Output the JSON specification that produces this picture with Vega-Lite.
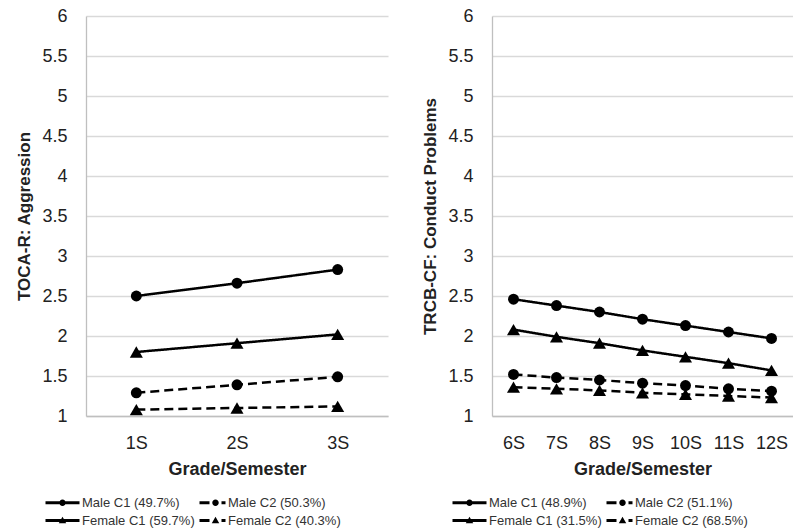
{
  "$schema": "https://vega.github.io/schema/vega-lite/v6.json",
  "padding": {"left": 15, "top": 7, "right": 0, "bottom": 0},
  "background": "white",
  "datasets": {
    "left": [
      {"g": "1S", "v": 2.5, "series": "Male C1 (49.7%)", "sex": "Male", "cls": "C1"},
      {"g": "2S", "v": 2.66, "series": "Male C1 (49.7%)", "sex": "Male", "cls": "C1"},
      {"g": "3S", "v": 2.83, "series": "Male C1 (49.7%)", "sex": "Male", "cls": "C1"},
      {"g": "1S", "v": 1.29, "series": "Male C2 (50.3%)", "sex": "Male", "cls": "C2"},
      {"g": "2S", "v": 1.39, "series": "Male C2 (50.3%)", "sex": "Male", "cls": "C2"},
      {"g": "3S", "v": 1.49, "series": "Male C2 (50.3%)", "sex": "Male", "cls": "C2"},
      {"g": "1S", "v": 1.8, "series": "Female C1 (59.7%)", "sex": "Female", "cls": "C1"},
      {"g": "2S", "v": 1.91, "series": "Female C1 (59.7%)", "sex": "Female", "cls": "C1"},
      {"g": "3S", "v": 2.02, "series": "Female C1 (59.7%)", "sex": "Female", "cls": "C1"},
      {"g": "1S", "v": 1.08, "series": "Female C2 (40.3%)", "sex": "Female", "cls": "C2"},
      {"g": "2S", "v": 1.1, "series": "Female C2 (40.3%)", "sex": "Female", "cls": "C2"},
      {"g": "3S", "v": 1.12, "series": "Female C2 (40.3%)", "sex": "Female", "cls": "C2"}
    ],
    "right": [
      {"g": "6S", "v": 2.46, "series": "Male C1 (48.9%)", "sex": "Male", "cls": "C1"},
      {"g": "7S", "v": 2.38, "series": "Male C1 (48.9%)", "sex": "Male", "cls": "C1"},
      {"g": "8S", "v": 2.3, "series": "Male C1 (48.9%)", "sex": "Male", "cls": "C1"},
      {"g": "9S", "v": 2.21, "series": "Male C1 (48.9%)", "sex": "Male", "cls": "C1"},
      {"g": "10S", "v": 2.13, "series": "Male C1 (48.9%)", "sex": "Male", "cls": "C1"},
      {"g": "11S", "v": 2.05, "series": "Male C1 (48.9%)", "sex": "Male", "cls": "C1"},
      {"g": "12S", "v": 1.97, "series": "Male C1 (48.9%)", "sex": "Male", "cls": "C1"},
      {"g": "6S", "v": 1.52, "series": "Male C2 (51.1%)", "sex": "Male", "cls": "C2"},
      {"g": "7S", "v": 1.48, "series": "Male C2 (51.1%)", "sex": "Male", "cls": "C2"},
      {"g": "8S", "v": 1.45, "series": "Male C2 (51.1%)", "sex": "Male", "cls": "C2"},
      {"g": "9S", "v": 1.41, "series": "Male C2 (51.1%)", "sex": "Male", "cls": "C2"},
      {"g": "10S", "v": 1.38, "series": "Male C2 (51.1%)", "sex": "Male", "cls": "C2"},
      {"g": "11S", "v": 1.34, "series": "Male C2 (51.1%)", "sex": "Male", "cls": "C2"},
      {"g": "12S", "v": 1.31, "series": "Male C2 (51.1%)", "sex": "Male", "cls": "C2"},
      {"g": "6S", "v": 2.08, "series": "Female C1 (31.5%)", "sex": "Female", "cls": "C1"},
      {"g": "7S", "v": 1.99, "series": "Female C1 (31.5%)", "sex": "Female", "cls": "C1"},
      {"g": "8S", "v": 1.91, "series": "Female C1 (31.5%)", "sex": "Female", "cls": "C1"},
      {"g": "9S", "v": 1.82, "series": "Female C1 (31.5%)", "sex": "Female", "cls": "C1"},
      {"g": "10S", "v": 1.74, "series": "Female C1 (31.5%)", "sex": "Female", "cls": "C1"},
      {"g": "11S", "v": 1.66, "series": "Female C1 (31.5%)", "sex": "Female", "cls": "C1"},
      {"g": "12S", "v": 1.57, "series": "Female C1 (31.5%)", "sex": "Female", "cls": "C1"},
      {"g": "6S", "v": 1.36, "series": "Female C2 (68.5%)", "sex": "Female", "cls": "C2"},
      {"g": "7S", "v": 1.34, "series": "Female C2 (68.5%)", "sex": "Female", "cls": "C2"},
      {"g": "8S", "v": 1.32, "series": "Female C2 (68.5%)", "sex": "Female", "cls": "C2"},
      {"g": "9S", "v": 1.29, "series": "Female C2 (68.5%)", "sex": "Female", "cls": "C2"},
      {"g": "10S", "v": 1.27, "series": "Female C2 (68.5%)", "sex": "Female", "cls": "C2"},
      {"g": "11S", "v": 1.25, "series": "Female C2 (68.5%)", "sex": "Female", "cls": "C2"},
      {"g": "12S", "v": 1.23, "series": "Female C2 (68.5%)", "sex": "Female", "cls": "C2"}
    ]
  },
  "hconcat": [
    {
      "width": 302,
      "height": 400,
      "data": {"name": "left"},
      "encoding": {
        "x": {"field": "g", "type": "ordinal", "sort": null, "title": "Grade/Semester"},
        "y": {"field": "v", "type": "quantitative", "title": "TOCA-R: Aggression",
              "scale": {"domain": [1, 6], "nice": false, "zero": false},
              "axis": {"values": [1, 1.5, 2, 2.5, 3, 3.5, 4, 4.5, 5, 5.5, 6], "format": "~g"}}
      },
      "layer": [
        {
          "mark": {"type": "line", "color": "black", "strokeWidth": 2.5},
          "encoding": {
            "detail": {"field": "series"},
            "strokeDash": {"field": "cls", "type": "nominal", "legend": null,
                           "scale": {"domain": ["C1", "C2"], "range": [[1, 0], [9, 5]]}}
          }
        },
        {
          "mark": {"type": "point", "filled": true, "color": "black", "opacity": 1},
          "encoding": {
            "shape": {"field": "sex", "type": "nominal", "legend": null,
                      "scale": {"domain": ["Male", "Female"], "range": ["circle", "triangle-up"]}},
            "size": {"field": "sex", "type": "nominal", "legend": null,
                     "scale": {"domain": ["Male", "Female"], "range": [120, 170]}}
          }
        },
        {
          "mark": {"type": "point", "filled": true, "color": "black", "opacity": 0},
          "encoding": {
            "shape": {"field": "series", "type": "nominal",
                      "scale": {"domain": ["Male C1 (49.7%)", "Male C2 (50.3%)", "Female C1 (59.7%)", "Female C2 (40.3%)"],
                                "range": [
                                  "M-3.4,-0.3H3.4V0.3H-3.4ZM0.65,0A0.65,0.65 0 1,1 -0.65,0A0.65,0.65 0 1,1 0.65,0Z",
                                  "M-1.8,-0.3H0.2V0.3H-1.8ZM2.6,-0.3H3.4V0.3H2.6ZM2.05,0A0.65,0.65 0 1,1 0.75,0A0.65,0.65 0 1,1 2.05,0Z",
                                  "M-3.4,-0.3H3.4V0.3H-3.4ZM0,-0.75L0.75,0.55L-0.75,0.55Z",
                                  "M-1.8,-0.3H0.2V0.3H-1.8ZM2.6,-0.3H3.4V0.3H2.6ZM1.4,-0.75L2.15,0.55L0.65,0.55Z"
                                ]},
                      "legend": {"title": null, "orient": "none", "legendX": -30, "legendY": 480, "direction": "horizontal", "columns": 2, "symbolSize": 100,
                                 "symbolOpacity": 1, "symbolFillColor": "black", "symbolStrokeColor": "black", "symbolStrokeWidth": 0,
                                 "labelFont": "Liberation Sans", "labelFontSize": 13,
                                 "labelColor": "#333", "columnPadding": 4, "rowPadding": 4, "labelOffset": 13}}
          }
        }
      ],
      "resolve": {"scale": {"shape": "independent", "size": "independent"}, "legend": {"shape": "independent"}}
    },
    {
      "width": 301,
      "height": 400,
      "data": {"name": "right"},
      "encoding": {
        "x": {"field": "g", "type": "ordinal", "sort": null, "title": "Grade/Semester"},
        "y": {"field": "v", "type": "quantitative", "title": "TRCB-CF: Conduct Problems",
              "scale": {"domain": [1, 6], "nice": false, "zero": false},
              "axis": {"values": [1, 1.5, 2, 2.5, 3, 3.5, 4, 4.5, 5, 5.5, 6], "format": "~g"}}
      },
      "layer": [
        {
          "mark": {"type": "line", "color": "black", "strokeWidth": 2.5},
          "encoding": {
            "detail": {"field": "series"},
            "strokeDash": {"field": "cls", "type": "nominal", "legend": null,
                           "scale": {"domain": ["C1", "C2"], "range": [[1, 0], [9, 5]]}}
          }
        },
        {
          "mark": {"type": "point", "filled": true, "color": "black", "opacity": 1},
          "encoding": {
            "shape": {"field": "sex", "type": "nominal", "legend": null,
                      "scale": {"domain": ["Male", "Female"], "range": ["circle", "triangle-up"]}},
            "size": {"field": "sex", "type": "nominal", "legend": null,
                     "scale": {"domain": ["Male", "Female"], "range": [120, 170]}}
          }
        },
        {
          "mark": {"type": "point", "filled": true, "color": "black", "opacity": 0},
          "encoding": {
            "shape": {"field": "series", "type": "nominal",
                      "scale": {"domain": ["Male C1 (48.9%)", "Male C2 (51.1%)", "Female C1 (31.5%)", "Female C2 (68.5%)"],
                                "range": [
                                  "M-3.4,-0.3H3.4V0.3H-3.4ZM0.65,0A0.65,0.65 0 1,1 -0.65,0A0.65,0.65 0 1,1 0.65,0Z",
                                  "M-1.8,-0.3H0.2V0.3H-1.8ZM2.6,-0.3H3.4V0.3H2.6ZM2.05,0A0.65,0.65 0 1,1 0.75,0A0.65,0.65 0 1,1 2.05,0Z",
                                  "M-3.4,-0.3H3.4V0.3H-3.4ZM0,-0.75L0.75,0.55L-0.75,0.55Z",
                                  "M-1.8,-0.3H0.2V0.3H-1.8ZM2.6,-0.3H3.4V0.3H2.6ZM1.4,-0.75L2.15,0.55L0.65,0.55Z"
                                ]},
                      "legend": {"title": null, "orient": "none", "legendX": -29, "legendY": 480, "direction": "horizontal", "columns": 2, "symbolSize": 100,
                                 "symbolOpacity": 1, "symbolFillColor": "black", "symbolStrokeColor": "black", "symbolStrokeWidth": 0,
                                 "labelFont": "Liberation Sans", "labelFontSize": 13,
                                 "labelColor": "#333", "columnPadding": 4, "rowPadding": 4, "labelOffset": 13}}
          }
        }
      ],
      "resolve": {"scale": {"shape": "independent", "size": "independent"}, "legend": {"shape": "independent"}}
    }
  ],
  "spacing": 33,
  "config": {
    "view": {"stroke": null},
    "font": "Liberation Sans",
    "scale": {"pointPadding": 0.5},
    "axis": {
      "labelFont": "Liberation Sans", "labelFontSize": 18, "labelColor": "#222",
      "titleFont": "Liberation Sans", "titleFontWeight": "bold", "titleColor": "#222",
      "ticks": false, "tickSize": 0, "domainColor": "#bfbfbf", "domainWidth": 1.3,
      "gridColor": "#d9d9d9", "gridWidth": 1.3
    },
    "axisX": {"grid": false, "labelPadding": 18, "titleFontSize": 18, "titlePadding": 8, "labelAngle": 0},
    "axisY": {"grid": true, "labelPadding": 19, "titleFontSize": 17, "titlePadding": 8, "domain": true}
  }
}
